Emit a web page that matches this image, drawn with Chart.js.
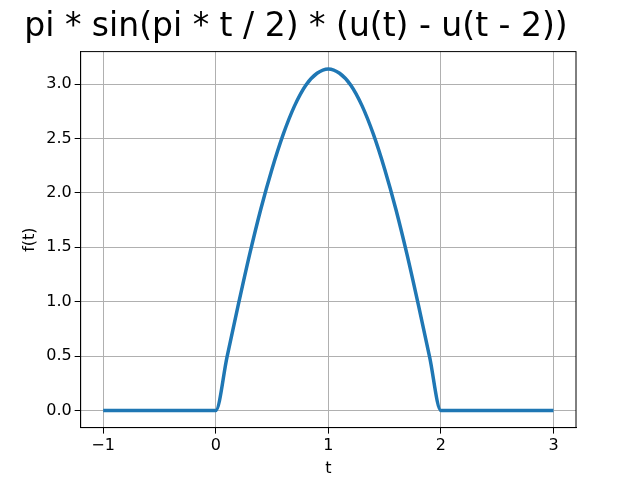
<!DOCTYPE html>
<html><head><meta charset="utf-8">
<script src="https://cdn.jsdelivr.net/npm/chart.js@4"></script>
<style>html,body{margin:0;padding:0;background:#fff}#w{width:640px;height:480px}</style>
</head><body><div id="w"><canvas id="c" width="640" height="480"></canvas></div>
<script>
const tValues = [-1,-0.9,-0.8,-0.7,-0.6,-0.5,-0.4,-0.3,-0.2,-0.1,0,0.1,0.2,0.3,0.4,0.5,0.6,0.7,0.8,0.9,1,1.1,1.2,1.3,1.4,1.5,1.6,1.7,1.8,1.9,2,2.1,2.2,2.3,2.4,2.5,2.6,2.7,2.8,2.9,3];
const fValues = [0,0,0,0,0,0,0,0,0,0,0,0.49,0.97,1.43,1.85,2.22,2.54,2.80,2.99,3.10,3.14,3.10,2.99,2.80,2.54,2.22,1.85,1.43,0.97,0.49,0,0,0,0,0,0,0,0,0,0,0];
const xTicks = [-1,0,1,2,3];
const yTicks = [0,0.5,1,1.5,2,2.5,3];
const font = {family:'DejaVu Sans', size:16};
new Chart(document.getElementById('c'), {
  type:'line',
  data:{datasets:[{data:tValues.map((t,i)=>({x:t,y:fValues[i]})),borderColor:'#1f77b4',borderWidth:3.5,pointRadius:0,cubicInterpolationMode:'monotone'}]},
  options:{
    responsive:false,animation:false,
    layout:{padding:{left:16,right:64,top:0,bottom:2}},
    plugins:{legend:{display:false},
      title:{display:true,text:'pi * sin(pi * t / 2) * (u(t) - u(t - 2))',color:'#000',font:{family:'DejaVu Sans',size:33,weight:'normal'},padding:{top:8,bottom:4}}},
    scales:{
      x:{type:'linear',min:-1.2,max:3.2,
        afterBuildTicks:s=>{s.ticks=xTicks.map(v=>({value:v}));},
        ticks:{color:'#000',font,callback:v=>String(v).replace('-','\u2212'),maxRotation:0},
        grid:{color:'#b0b0b0',tickColor:'#000',tickLength:6},border:{color:'#000'},
        title:{display:true,text:'t',color:'#000',font,padding:0}},
      y:{min:-0.157,max:3.299,
        afterBuildTicks:s=>{s.ticks=yTicks.map(v=>({value:v}));},
        ticks:{color:'#000',font,callback:v=>v.toFixed(1)},
        grid:{color:'#b0b0b0',tickColor:'#000',tickLength:6},border:{color:'#000'},
        title:{display:true,text:'f(t)',color:'#000',font,padding:4}}
    }
  },
  plugins:[{id:'frame',afterDraw(ch){const a=ch.chartArea,c=ch.ctx;c.save();c.strokeStyle='#000';c.lineWidth=1;c.strokeRect(a.left,a.top,a.right-a.left,a.bottom-a.top);c.restore();}}]
});
</script></body></html>
